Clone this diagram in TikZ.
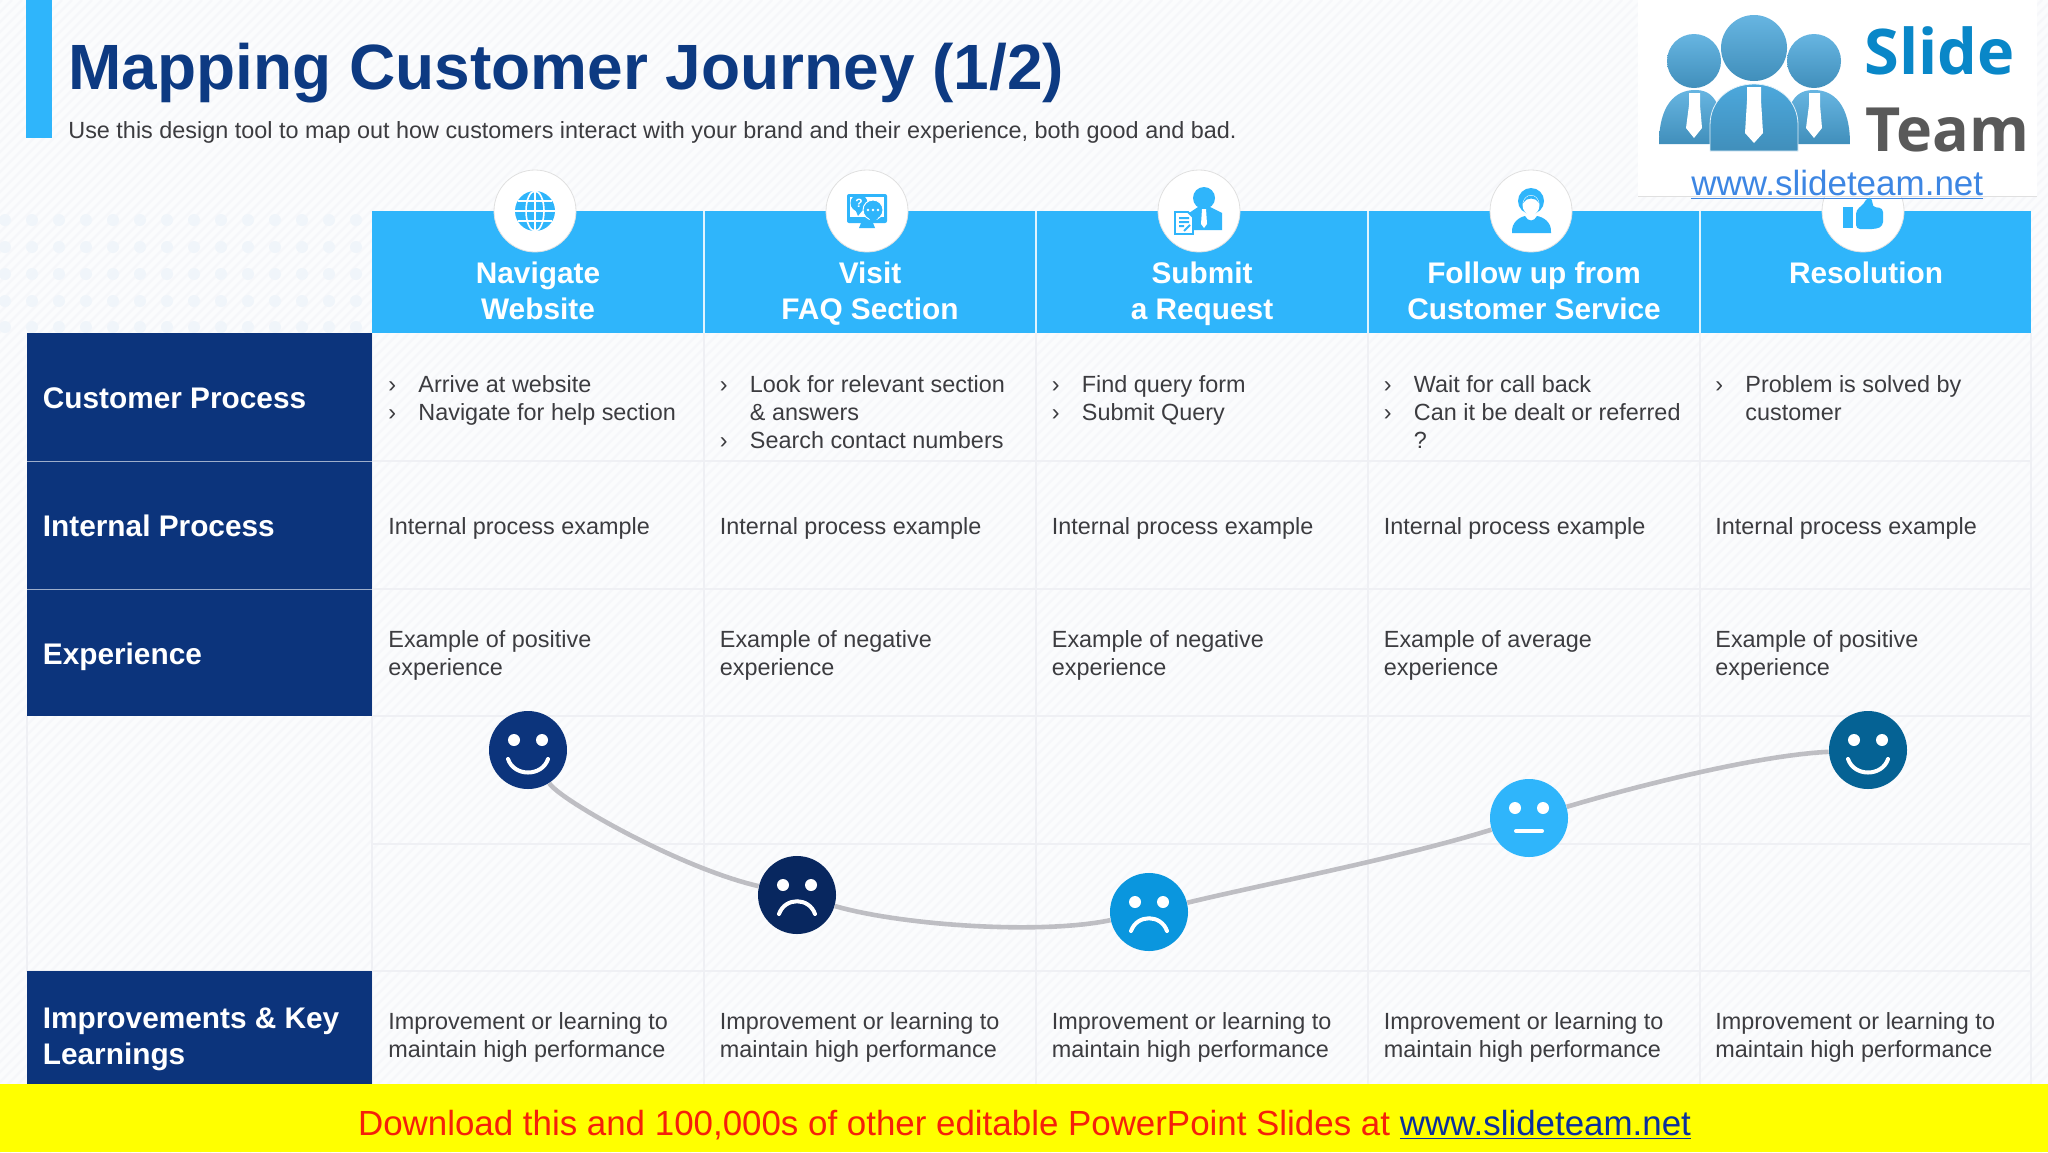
\documentclass[tikz,border=0pt]{standalone}
\usepackage{fontspec}
\setmainfont{Liberation Sans}
\newfontfamily\logofont{Open Sans}
\definecolor{sky}{HTML}{2FB5FB}
\definecolor{navy}{HTML}{0C347C}
\definecolor{deepnavy}{HTML}{08275F}
\definecolor{midsky}{HTML}{0A96DE}
\definecolor{teal}{HTML}{056294}
\definecolor{titleblue}{HTML}{0D3A82}
\definecolor{bodytext}{HTML}{3C3C40}
\definecolor{gridline}{HTML}{EFF0F4}
\definecolor{paper}{HTML}{FBFCFD}
\definecolor{hatch}{HTML}{F6F7FA}
\definecolor{dotblue}{HTML}{F0F5FA}
\definecolor{curve}{HTML}{BEBEC3}
\definecolor{logoblue}{HTML}{4CA8DC}
\definecolor{strip}{HTML}{FFFF00}
\definecolor{stripred}{HTML}{F5200A}
\definecolor{striplink}{HTML}{0B2F9C}
\newcommand{\bul}{\makebox[15pt][l]{›}}
\newcommand{\ind}{\hspace*{15pt}}
\tikzset{
  x=0.5pt, y=-0.5pt,
  body/.style={anchor=base west, inner sep=0pt, align=left, text=bodytext, font=\fontsize{11.7}{14}\selectfont},
  rowlabel/.style={anchor=base west, inner sep=0pt, align=left, text=white, font=\fontsize{14.9}{18}\selectfont\bfseries},
  headlabel/.style={anchor=base, inner sep=0pt, align=center, text=white, font=\fontsize{14.9}{18}\selectfont\bfseries},
  iconcircle/.style={circle, fill=white, draw=black!12, line width=0.4pt, minimum size=41pt, inner sep=0pt},
  face/.style={circle, minimum size=39pt, inner sep=0pt},
  feature/.style={draw=white, line width=2pt, line cap=round},
  gridrule/.style={draw=gridline, line width=0.6pt},
  journey/.style={draw=curve, line width=2.3pt},
  eyes/.pic={\fill[white] (-14,-10) circle[radius=6] (14,-10) circle[radius=6];},
  smile/.pic={\pic{eyes}; \draw[feature] (-20,9) .. controls (-14,27) and (14,27) .. (20,9);},
  frown/.pic={\pic{eyes}; \draw[feature] (-18,19) .. controls (-12,2) and (12,2) .. (18,19);},
  flat/.pic={\pic{eyes}; \draw[feature] (-13,13) -- (13,13);}
}
\begin{document}
\begin{tikzpicture}
\useasboundingbox (0,0) rectangle (2048,1152);
% paper with hatching and dots
\fill[paper] (0,0) rectangle (2048,1152);
\begin{scope}
  \clip (0,0) rectangle (2048,1152);
  \foreach \i in {-1150,-1140,...,2040}
    \draw[hatch, line width=1.2pt] (\i,1152) -- ++(1152,-1152);
\end{scope}
\foreach \r in {220,247,274,301,327}
  \foreach \c in {5,32,...,360}
    \fill[dotblue] (\c,\r) circle[radius=6];

% title
\fill[sky] (26,0) rectangle (52,138);
\node (title) [anchor=base west, inner sep=0pt, text=titleblue, font=\fontsize{32}{36}\selectfont\bfseries] at (68,89) {Mapping Customer Journey (1/2)};
\node (sub) [anchor=base west, inner sep=0pt, text=bodytext, font=\fontsize{11.7}{14}\selectfont] at (68,138) {Use this design tool to map out how customers interact with your brand and their experience, both good and bad.};

% table grid
\foreach \xx in {372,704,1036,1368,1700,2031}
  \draw[gridrule] (\xx,333) -- (\xx,1084);
\foreach \yy in {461,589,716,844,971}
  \draw[gridrule] (372,\yy) -- (2031,\yy);
\draw[gridrule] (27,716) -- (27,971) -- (372,971);

% left column
\fill[navy] (27,333) rectangle (372,716);
\fill[navy] (27,971) rectangle (372,1084);
\draw[white!60!navy, line width=0.5pt] (27,461) -- (372,461) (27,589) -- (372,589);
\node (r1) [rowlabel] at (42.5,408.5) {Customer Process};
\node (r2) [rowlabel] at (42.5,536.5) {Internal Process};
\node (r3) [rowlabel] at (42.5,664) {Experience};
\node (r4) [rowlabel] at (42.5,1064) {Improvements \& Key\\Learnings};

% header band
\fill[sky] (372,211) rectangle (2031,333);
\foreach \xx in {704,1036,1368,1700}
  \draw[white!85!sky, line width=1pt] (\xx,211) -- (\xx,333);
\node (c1) [iconcircle] at (535,211) {};
\node (c2) [iconcircle] at (867,211) {};
\node (c3) [iconcircle] at (1199,211) {};
\node (c4) [iconcircle] at (1531,211) {};
\node (c5) [iconcircle] at (1863,211) {};
\node (h1) [headlabel] at (538,319) {Navigate\\Website};
\node (h2) [headlabel] at (870,319) {Visit\\FAQ Section};
\node (h3) [headlabel] at (1202,319) {Submit\\a Request};
\node (h4) [headlabel] at (1534,319) {Follow up from\\Customer Service};
\node (h5) [headlabel] at (1866,283) {Resolution};

% globe
\fill[sky] (535,211) circle[radius=20];
\draw[white, line width=0.8pt] (535,191) -- (535,231) (515,211) -- (555,211) (518,201) -- (552,201) (518,221) -- (552,221);
\draw[white, line width=0.8pt] (535,211) ellipse[x radius=9, y radius=20];
% monitor with bubbles
\fill[sky, rounded corners=1pt] (847,194) rectangle (887,223);
\fill[white] (850,197) rectangle (884,217);
\fill[sky] (861,223) -- (873,223) -- (875,228) -- (859,228) -- cycle;
\fill[sky] (859,203) circle[radius=8.5];
\fill[sky] (855,209) -- (862,211) -- (858,216) -- cycle;
\node (faq) [inner sep=0pt, text=white, font=\fontsize{6}{6}\selectfont\bfseries] at (859,203) {?};
\draw[white, fill=sky, line width=0.5pt] (873,210) circle[radius=10];
\fill[sky] (869,218) -- (878,218) -- (872,224) -- cycle;
\fill[white] (868,210) circle[radius=1.4] (873,210) circle[radius=1.4] (878,210) circle[radius=1.4];
% person with form
\fill[sky] (1204,198) circle[radius=11];
\fill[sky] (1189,230) -- (1189,213) -- (1198,207) -- (1210,207) -- (1222,213) -- (1222,230) -- cycle;
\fill[white] (1202,209) -- (1206,209) -- (1207,224) -- (1204,228) -- (1201,224) -- cycle;
\draw[sky, fill=white, line width=0.9pt] (1175,212) -- (1188,212) -- (1193,217) -- (1193,234) -- (1175,234) -- cycle;
\draw[sky, line width=1pt] (1179,218) -- (1189,218) (1179,222) -- (1189,222) (1179,226) -- (1184,226) (1184,231) -- (1190,225);
% agent with headset
\fill[sky] (1531,201) ellipse[x radius=13, y radius=13];
\fill[white] (1531,205) ellipse[x radius=8.5, y radius=10];
\fill[sky] (1523,203) .. controls (1526,197) and (1536,197) .. (1539,203) .. controls (1536,193) and (1526,193) .. (1523,203);
\fill[sky] (1512,233) .. controls (1511,222) and (1520,217) .. (1525,216) .. controls (1528,222) and (1534,222) .. (1537,216) .. controls (1543,217) and (1552,222) .. (1551,233) -- cycle;

% logo
\fill[white] (1638,0) rectangle (2037,196);
\draw[black!12, line width=0.4pt] (1638,196) -- (2037,196);
\shade[top color=logoblue!85!white, bottom color=logoblue!85!black] (1694,61) circle[radius=27];
\shade[top color=logoblue!85!white, bottom color=logoblue!85!black] (1814,61) circle[radius=27];
\shade[top color=logoblue!85!white, bottom color=logoblue!85!black] (1754,48) circle[radius=33];
\shade[top color=logoblue!85!white, bottom color=logoblue!85!black] (1659,144) .. controls (1659,105) and (1675,90) .. (1695,90) .. controls (1712,90) and (1722,100) .. (1725,144) -- cycle;
\shade[top color=logoblue!85!white, bottom color=logoblue!85!black] (1783,144) .. controls (1786,100) and (1796,90) .. (1814,90) .. controls (1834,90) and (1850,105) .. (1850,144) -- cycle;
\shade[top color=logoblue, bottom color=logoblue!85!black, draw=white!85!logoblue, line width=0.4pt] (1710,151) -- (1710,125) .. controls (1710,100) and (1730,84) .. (1754,84) .. controls (1778,84) and (1798,100) .. (1798,125) -- (1798,151) -- cycle;
\fill[white] (1689,93) -- (1700,93) -- (1700,105) -- (1702,128) -- (1694,138) -- (1686,128) -- (1689,105) -- cycle;
\fill[white] (1809,93) -- (1820,93) -- (1820,105) -- (1822,128) -- (1814,138) -- (1806,128) -- (1809,105) -- cycle;
\fill[white] (1747,87) -- (1761,87) -- (1761,100) -- (1763,133) -- (1754,143) -- (1745,133) -- (1747,100) -- cycle;
\node (slide) [anchor=base west, inner sep=0pt, text=midsky!90!black, font=\fontsize{31.5}{36}\selectfont\logofont\bfseries] at (1864,74) {Slide};
\node (team) [anchor=base west, inner sep=0pt, text=black!65, font=\fontsize{30.5}{36}\selectfont\logofont\bfseries] at (1865,151) {Team};
\node (url) [anchor=base west, inner sep=0pt, text=logoblue!80!blue, font=\fontsize{17.5}{20}\selectfont] at (1691,195) {\underline{www.slideteam.net}};
% thumb
\fill[sky] (1843,207) rectangle (1853,228);
\fill[sky, rounded corners=2pt] (1856,210) -- (1864,204) -- (1867,197) -- (1873,199) -- (1872,207) -- (1883,208) -- (1883,226) -- (1876,229) -- (1856,229) -- cycle;

% cell texts
\node (a1) [body] at (388,420) {\bul Arrive at website\\\bul Navigate for help section};
\node (a2) [body] at (719.5,448) {\bul Look for relevant section\\\ind \& answers\\\bul Search contact numbers};
\node (a3) [body] at (1051.5,420) {\bul Find query form\\\bul Submit Query};
\node (a4) [body] at (1383.5,448) {\bul Wait for call back\\\bul Can it be dealt or referred\\\ind ?};
\node (a5) [body] at (1715,420) {\bul Problem is solved by\\\ind customer};
\foreach \i/\xx in {1/388,2/719.5,3/1051.5,4/1383.5,5/1715} {
  \node (b\i) [body] at (\xx,534) {Internal process example};
  \node (d\i) [body] at (\xx,1057) {Improvement or learning to\\maintain high performance};
}
\node (e1) [body] at (388,675) {Example of positive\\experience};
\node (e2) [body] at (719.5,675) {Example of negative\\experience};
\node (e3) [body] at (1051.5,675) {Example of negative\\experience};
\node (e4) [body] at (1383.5,675) {Example of average\\experience};
\node (e5) [body] at (1715,675) {Example of positive\\experience};

% journey curve
\node (f1) [face, fill=navy] at (528,750) {};
\node (f2) [face, fill=deepnavy] at (797,895) {};
\node (f3) [face, fill=midsky] at (1149,912) {};
\node (f4) [face, fill=sky] at (1529,818) {};
\node (f5) [face, fill=teal] at (1868,750) {};
\draw[journey] (f1) .. controls (560,800) and (680,868) .. (f2);
\draw[journey] (f2) .. controls (900,925) and (1040,935) .. (f3);
\draw[journey] (f3) .. controls (1260,885) and (1400,858) .. (f4);
\draw[journey] (f4) .. controls (1640,785) and (1760,755) .. (f5);
\pic at (f1) {smile};
\pic at (f2) {frown};
\pic at (f3) {frown};
\pic at (f4) {flat};
\pic at (f5) {smile};

% download strip
\fill[strip] (0,1084) rectangle (2048,1152);
\node (foot) [anchor=base, inner sep=0pt, text=stripred, font=\fontsize{17.45}{20}\selectfont] at (1024.5,1135) {Download this and 100,000s of other editable PowerPoint Slides at \textcolor{striplink}{\underline{www.slideteam.net}}};
\end{tikzpicture}
\end{document}
